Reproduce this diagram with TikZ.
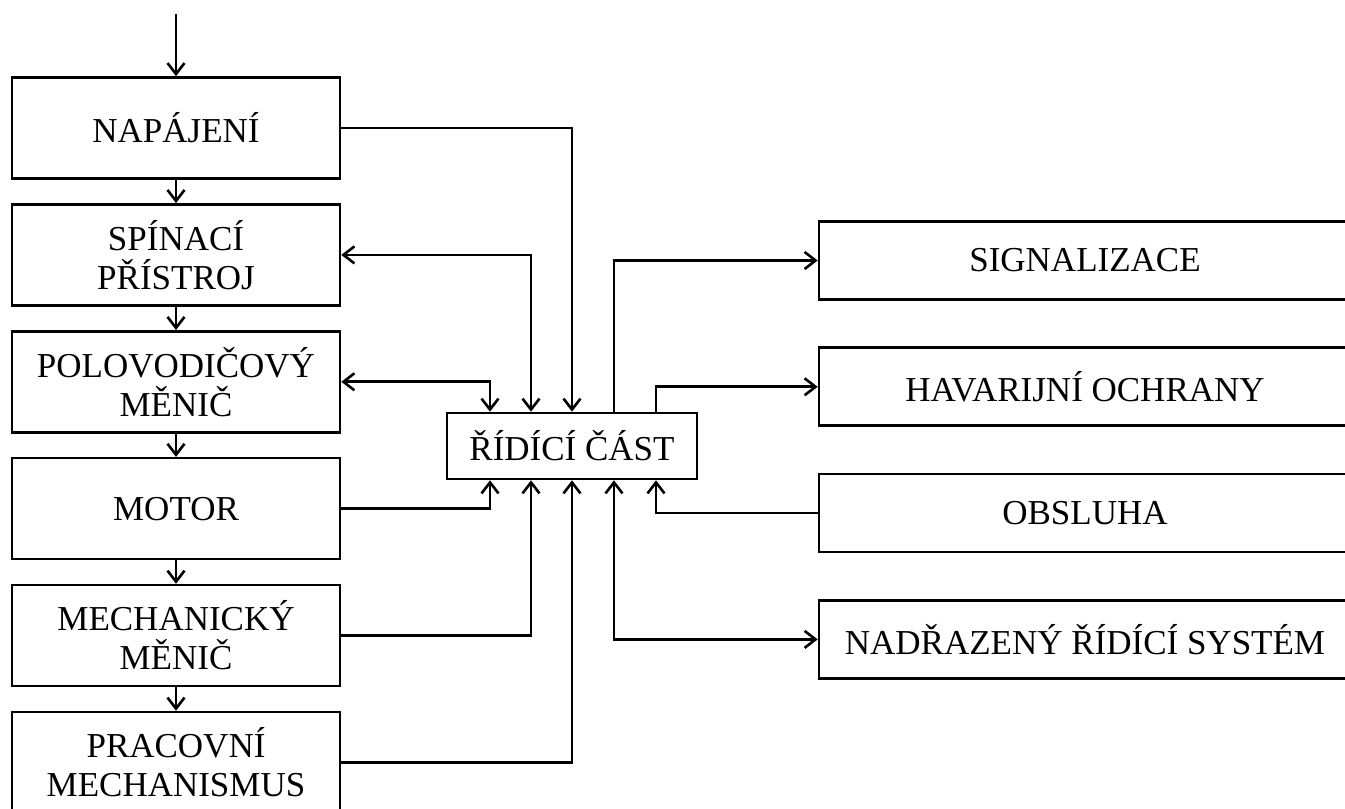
\documentclass[tikz,border=0pt]{standalone}
\usepackage{fontspec}
\setmainfont{Liberation Serif}
\usetikzlibrary{positioning,arrows.meta}

\begin{document}
\begin{tikzpicture}[
		x=1pt, y=1pt,
		line width=2.6pt,
		>={Straight Barb[length=11pt,width=17pt]},
		every node/.style={font=\fontsize{35}{39}\selectfont},
		block/.style={
			draw,
			align=center,
			minimum width=328pt,
			minimum height=101pt,
			inner sep=0pt
		},
		control/.style={
			draw,
			minimum width=250pt,
			minimum height=66pt,
			inner sep=0pt
		},
		peripheral/.style={
			draw,
			minimum width=532pt,
			minimum height=78pt,
			inner sep=0pt
		}
	]
		\useasboundingbox (0,0) rectangle (1345,809);

		\node[block] (supply) at (176,681) {NAPÁJENÍ};
		\node[block, below=23.3pt of supply] (switch)
			{SPÍNACÍ\\PŘÍSTROJ};
		\node[block, below=23.3pt of switch] (converter)
			{POLOVODIČOVÝ\\MĚNIČ};
		\node[block, below=23.3pt of converter] (motor) {MOTOR};
		\node[block, below=23.3pt of motor] (gear)
			{MECHANICKÝ\\MĚNIČ};
		\node[block, below=23.3pt of gear] (load)
			{PRACOVNÍ\\MECHANISMUS};

		\node[control] (ctrl) at (572,363) {ŘÍDÍCÍ ČÁST};

		\node[peripheral] (signal) at (1085,548.5) {SIGNALIZACE};
		\node[peripheral, below=45.7pt of signal] (protect)
			{HAVARIJNÍ OCHRANY};
		\node[peripheral, below=45.7pt of protect] (operator) {OBSLUHA};
		\node[peripheral, below=45.7pt of operator] (master)
			{NADŘAZENÝ ŘÍDÍCÍ SYSTÉM};

		\coordinate (input) at (176,795);
		\draw[->] (input) -- (supply);
		\draw[->] (supply) -- (switch);
		\draw[->] (switch) -- (converter);
		\draw[->] (converter) -- (motor);
		\draw[->] (motor) -- (gear);
		\draw[->] (gear) -- (load);

		\draw[->] (supply.east) -| (ctrl.north);
		\draw[<->] (switch.east) -| ([xshift=-41pt]ctrl.north);
		\draw[<->] (converter.east) -| ([xshift=-82pt]ctrl.north);
		\draw[->] (motor.east) -| ([xshift=-82pt]ctrl.south);
		\draw[->] (gear.east) -| ([xshift=-41pt]ctrl.south);
		\draw[->] (load.east) -| (ctrl.south);

		\draw[->] ([xshift=42pt]ctrl.north) |- (signal.west);
		\draw[->] ([xshift=84pt]ctrl.north) |- (protect.west);
		\draw[->] (operator.west) -| ([xshift=84pt]ctrl.south);
		\draw[<->] ([xshift=42pt]ctrl.south) |- (master.west);
	\end{tikzpicture}
\end{document}
